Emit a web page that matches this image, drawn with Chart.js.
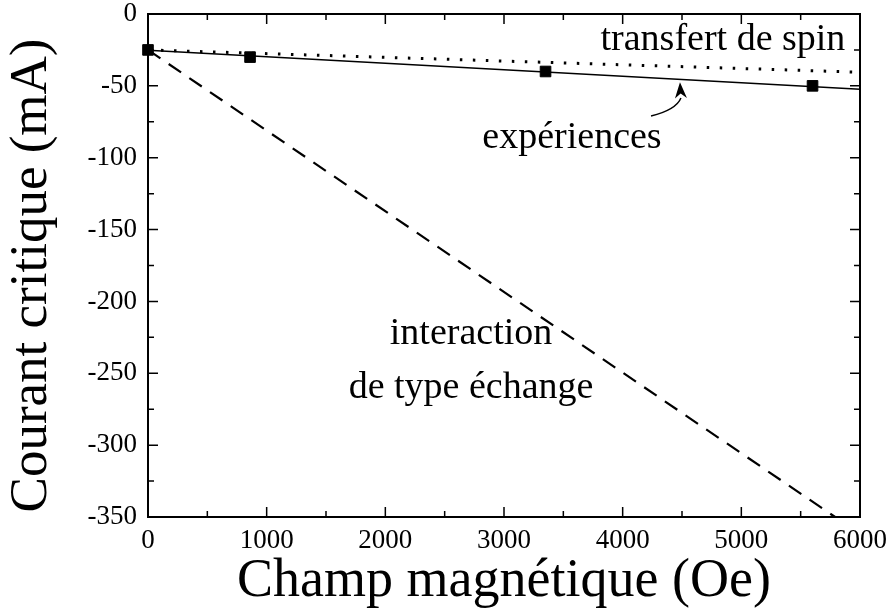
<!DOCTYPE html>
<html>
<head>
<meta charset="utf-8">
<style>
  html, body { margin: 0; padding: 0; background: #fff; }
  #wrap { width: 891px; height: 612px; }
</style>
</head>
<body>
<script src="https://cdn.jsdelivr.net/npm/chart.js@4/dist/chart.umd.min.js"></script>
<div id="wrap"><canvas id="chartContainer" width="891" height="612"></canvas></div>

<script>
// experimental points (field in Oe, current in mA)
const expField = [0, 860, 3350, 5600];
const expCurrent = [-25, -30, -40, -50];
// linear fit through the experiments
const fitField = [0, 6000];
const fitCurrent = [-25.3, -52.3];
// spin transfer prediction (dotted)
const spinField = [0, 6000];
const spinCurrent = [-25, -40.5];
// exchange-type interaction prediction (dashed)
const exchField = [0, 5790];
const exchCurrent = [-25, -350];

const xTicks = [0, 1000, 2000, 3000, 4000, 5000, 6000];
const yTicks = [0, -50, -100, -150, -200, -250, -300, -350];

// text labels inside the plot, placed in data units
const notes = [
    { text: 'transfert de spin', x: 4845, y: -25 },
    { text: 'expériences', x: 3573, y: -93 },
    { text: 'interaction', x: 2722, y: -229.6 },
    { text: 'de type échange', x: 2722, y: -267.2 }
];
// arrow from "expériences" up to the fit line: start, control, end, tip
const arrowPts = [[4239, -71], [4449, -66.8], [4491, -58.5], [4483, -47.5]];

const yTitle = 'Courant critique (mA)';
const serif = "Liberation Serif";
Chart.defaults.font.family = serif;
Chart.defaults.color = '#000';

function pts(xs, ys) {
    return xs.map((x, i) => ({ x: x, y: ys[i] }));
}

const framePlugin = {
    id: 'frame',
    afterDatasetsDraw(chart) {
        const ctx = chart.ctx;
        const a = chart.chartArea;
        const xs = chart.scales.x, ys = chart.scales.y;
        ctx.save();
        ctx.strokeStyle = '#000';
        ctx.lineWidth = 2;
        ctx.strokeRect(a.left, a.top, a.right - a.left, a.bottom - a.top);
        ctx.lineWidth = 1.5;
        ctx.beginPath();
        // ticks on x (major every 1000, minor every 500), bottom and top
        for (let v = 0; v <= 6000; v += 500) {
            const p = xs.getPixelForValue(v);
            const len = v % 1000 === 0 ? 10 : 6;
            ctx.moveTo(p, a.bottom); ctx.lineTo(p, a.bottom - len);
            ctx.moveTo(p, a.top); ctx.lineTo(p, a.top + len);
        }
        // ticks on y (major every 50, minor every 25), left and right
        for (let v = 0; v >= -350; v -= 25) {
            const p = ys.getPixelForValue(v);
            const len = v % 50 === 0 ? 10 : 6;
            ctx.moveTo(a.left, p); ctx.lineTo(a.left + len, p);
            ctx.moveTo(a.right, p); ctx.lineTo(a.right - len, p);
        }
        ctx.stroke();

        // labels
        ctx.fillStyle = '#000';
        ctx.font = '38px "' + serif + '"';
        ctx.textAlign = 'center';
        ctx.textBaseline = 'alphabetic';
        notes.forEach(n => {
            ctx.fillText(n.text, xs.getPixelForValue(n.x), ys.getPixelForValue(n.y));
        });

        // y axis title, a bit below the middle of the axis like the original
        ctx.save();
        ctx.translate(32, (a.top + a.bottom) / 2 + 10);
        ctx.rotate(-Math.PI / 2);
        ctx.font = '53px "' + serif + '"';
        ctx.textBaseline = 'middle';
        ctx.fillText(yTitle, 0, 0);
        ctx.restore();

        // curved arrow
        const P = arrowPts.map(p => [xs.getPixelForValue(p[0]), ys.getPixelForValue(p[1])]);
        ctx.lineWidth = 1.5;
        ctx.beginPath();
        ctx.moveTo(P[0][0], P[0][1]);
        ctx.quadraticCurveTo(P[1][0], P[1][1], P[2][0], P[2][1]);
        ctx.stroke();
        const ang = Math.atan2(P[3][1] - P[2][1], P[3][0] - P[2][0]);
        const hl = 16, hw = 6;
        ctx.beginPath();
        ctx.moveTo(P[3][0], P[3][1]);
        ctx.lineTo(P[3][0] - hl * Math.cos(ang) + hw * Math.sin(ang), P[3][1] - hl * Math.sin(ang) - hw * Math.cos(ang));
        ctx.lineTo(P[3][0] - hl * 0.7 * Math.cos(ang), P[3][1] - hl * 0.7 * Math.sin(ang));
        ctx.lineTo(P[3][0] - hl * Math.cos(ang) - hw * Math.sin(ang), P[3][1] - hl * Math.sin(ang) + hw * Math.cos(ang));
        ctx.closePath();
        ctx.fill();
        ctx.restore();
    }
};

new Chart('chartContainer', {
    type: 'scatter',
    data: {
        datasets: [
            {
                label: 'interaction de type échange',
                data: pts(exchField, exchCurrent),
                showLine: true,
                borderColor: '#000',
                borderWidth: 2.2,
                borderDash: [15, 10],
                pointRadius: 0
            },
            {
                label: 'transfert de spin',
                data: pts(spinField, spinCurrent),
                showLine: true,
                borderColor: '#000',
                borderWidth: 3,
                borderDash: [2.5, 10.5],
                pointRadius: 0
            },
            {
                label: 'fit',
                data: pts(fitField, fitCurrent),
                showLine: true,
                borderColor: '#000',
                borderWidth: 1.5,
                pointRadius: 0
            },
            {
                label: 'expériences',
                data: pts(expField, expCurrent),
                showLine: false,
                pointStyle: 'rect',
                pointRadius: 7.5,
                backgroundColor: '#000',
                borderColor: '#000',
                borderWidth: 1
            }
        ]
    },
    options: {
        responsive: false,
        animation: false,
        clip: false,
        layout: { padding: 0 },
        plugins: {
            legend: { display: false },
            tooltip: { enabled: false }
        },
        scales: {
            x: {
                type: 'linear',
                min: xTicks[0],
                max: xTicks[xTicks.length - 1],
                afterFit: s => { s.height = 95; s.paddingLeft = 0; s.paddingRight = 31; },
                grid: { display: false, drawTicks: false },
                border: { display: false },
                ticks: {
                    color: '#000',
                    padding: 8,
                    maxRotation: 0,
                    autoSkip: false,
                    stepSize: xTicks[1] - xTicks[0],
                    font: { family: serif, size: 27 },
                    callback: v => xTicks.includes(v) ? String(v) : ''
                },
                title: {
                    display: true,
                    text: 'Champ magnétique (Oe)',
                    color: '#000',
                    padding: { top: 0, bottom: 0 },
                    font: { family: serif, size: 54, lineHeight: 1.1 }
                }
            },
            y: {
                type: 'linear',
                min: yTicks[yTicks.length - 1],
                max: yTicks[0],
                afterFit: s => { s.width = 148; s.paddingTop = 14; s.paddingBottom = 0; },
                grid: { display: false, drawTicks: false },
                border: { display: false },
                ticks: {
                    color: '#000',
                    padding: 11,
                    autoSkip: false,
                    stepSize: yTicks[0] - yTicks[1],
                    font: { family: serif, size: 27 },
                    callback: v => yTicks.includes(v) ? String(v) : ''
                },
                title: { display: false }
            }
        }
    },
    plugins: [framePlugin]
});
</script>
</body>
</html>
